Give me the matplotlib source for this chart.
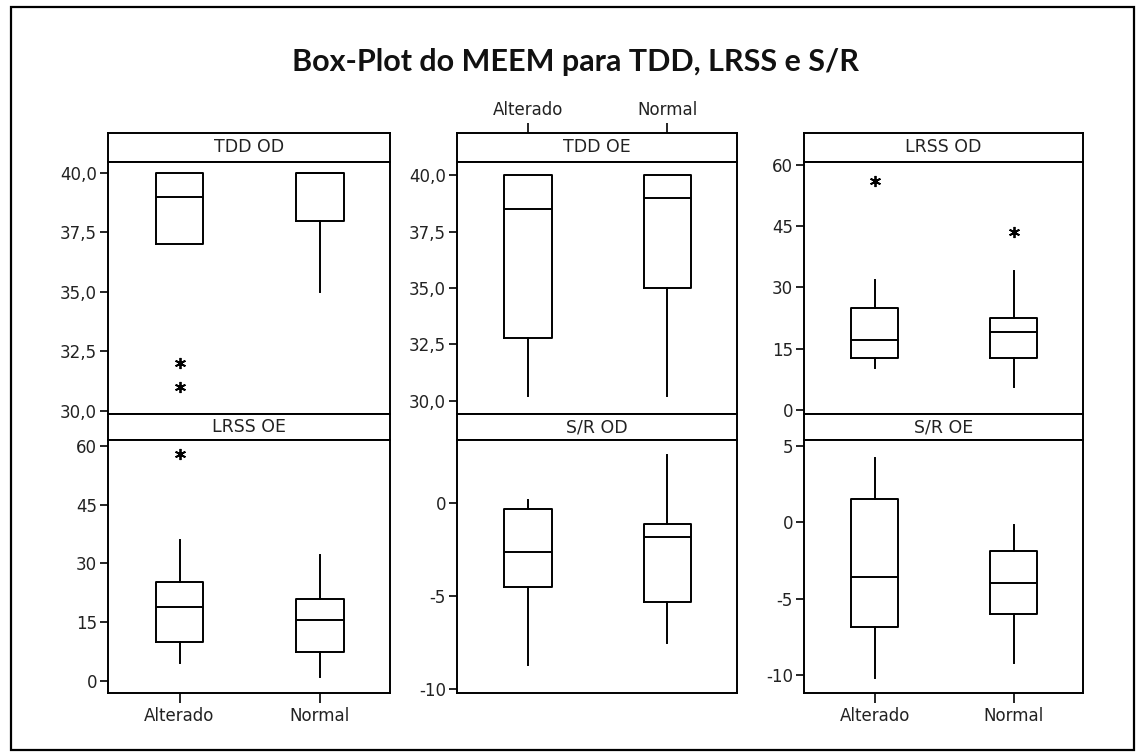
import matplotlib
matplotlib.use("Agg")
import matplotlib.pyplot as plt
from matplotlib.patches import Rectangle
from matplotlib.ticker import FixedLocator, FuncFormatter

plt.rcParams["axes.unicode_minus"] = False

W, H = 1138, 754

# ---------------- data ----------------
title = "Box-Plot do MEEM para TDD, LRSS e S/R"
groups = ["Alterado", "Normal"]
panel_titles = ["TDD OD", "TDD OE", "LRSS OD", "LRSS OE", "S/R OD", "S/R OE"]

whis_low = [[37.0, 35.0], [30.2, 30.2], [10.2, 5.6], [4.7, 0.9], [-8.7, -7.5], [-10.2, -9.2]]
q1 = [[37.0, 38.0], [32.8, 35.0], [12.8, 12.8], [10.0, 7.4], [-4.5, -5.3], [-6.9, -6.0]]
median = [[39.0, 40.0], [38.5, 39.0], [17.2, 19.2], [19.0, 15.6], [-2.6, -1.8], [-3.6, -4.0]]
q3 = [[40.0, 40.0], [40.0, 40.0], [24.9, 22.5], [25.3, 20.9], [-0.3, -1.1], [1.5, -1.9]]
whis_high = [[40.0, 40.0], [40.0, 40.0], [31.9, 34.1], [36.0, 32.2], [0.15, 2.6], [4.25, -0.2]]
outliers = [[[32.0, 31.0], []], [[], []], [[56.1], [43.5]], [[58.0], []], [[], []], [[], []]]

y_ticks = [[30.0, 32.5, 35.0, 37.5, 40.0],
           [30.0, 32.5, 35.0, 37.5, 40.0],
           [0, 15, 30, 45, 60],
           [0, 15, 30, 45, 60],
           [-10, -5, 0],
           [-10, -5, 0, 5]]
y_decimals = [1, 1, 0, 0, 0, 0]

# ---------------- layout (pixels) ----------------
cols = [(108, 390), (457, 737), (804, 1083)]
rows = [((133, 162), (162, 414)), ((414, 440), (440, 693))]
ylims = [(29.87, 40.46), (29.42, 40.58), (-0.98, 60.7), (-3.06, 61.5), (-10.2, 3.4), (-11.2, 5.4)]
xtick_side = [None, "top", None, "bottom", None, "bottom"]

FONT = "DejaVu Sans"
LW = 1.4
TXT = "#222222"

fig = plt.figure(figsize=(W / 100, H / 100), dpi=100)
fig.patch.set_facecolor("white")


def px_axes(x0, y0, x1, y1):
    return fig.add_axes([x0 / W, 1 - y1 / H, (x1 - x0) / W, (y1 - y0) / H])


def fmt_factory(d):
    return FuncFormatter(lambda v, p: (f"{v:.{d}f}").replace(".", ","))


for i, name in enumerate(panel_titles):
    r, c = divmod(i, 3)
    (sy0, sy1), (py0, py1) = rows[r]
    x0, x1 = cols[c]

    # strip header
    sax = px_axes(x0, sy0, x1, sy1)
    sax.set_xticks([])
    sax.set_yticks([])
    for s in sax.spines.values():
        s.set_linewidth(LW)
        s.set_color("black")
    sax.text(0.5, 0.5, name, ha="center", va="center", fontsize=12.5,
             family=FONT, color=TXT, transform=sax.transAxes)

    # plot area
    ax = px_axes(x0, py0, x1, py1)
    stats = []
    for g in range(2):
        stats.append(dict(label=groups[g], whislo=whis_low[i][g], q1=q1[i][g],
                          med=median[i][g], q3=q3[i][g], whishi=whis_high[i][g],
                          fliers=outliers[i][g]))
    ax.bxp(stats, positions=[1, 2], widths=0.34, showcaps=False,
           boxprops=dict(color="black", linewidth=LW),
           whiskerprops=dict(color="black", linewidth=LW),
           medianprops=dict(color="black", linewidth=LW),
           flierprops=dict(marker=(6, 2, 0), markersize=8, markeredgecolor="black",
                           markeredgewidth=1.3, linestyle="none"))
    ax.set_xlim(0.49, 2.5)
    ax.set_ylim(*ylims[i])
    ax.yaxis.set_major_locator(FixedLocator(y_ticks[i]))
    ax.yaxis.set_major_formatter(fmt_factory(y_decimals[i]))
    ax.tick_params(axis="y", direction="out", length=6, width=1.2, pad=2,
                   labelsize=12, labelcolor=TXT, colors="black")
    for lab in ax.get_yticklabels():
        lab.set_family(FONT)
    for s in ax.spines.values():
        s.set_linewidth(LW)
        s.set_color("black")

    side = xtick_side[i]
    if side is None:
        ax.tick_params(axis="x", bottom=False, top=False, labelbottom=False, labeltop=False)
    else:
        ax.set_xticks([1, 2])
        ax.set_xticklabels(groups, family=FONT)
        if side == "bottom":
            ax.tick_params(axis="x", bottom=True, top=False, labelbottom=True, labeltop=False,
                           direction="out", length=7, width=1.2, labelsize=12,
                           labelcolor=TXT, pad=3)
        else:
            ax.tick_params(axis="x", bottom=False, top=False, labelbottom=False, labeltop=False)
            # ticks above the strip header
            sax.set_xlim(0.49, 2.5)
            sax.set_xticks([1, 2])
            sax.set_xticklabels(groups, family=FONT)
            sax.tick_params(axis="x", bottom=False, top=True, labelbottom=False, labeltop=True,
                            direction="out", length=7, width=1.2, labelsize=12,
                            labelcolor=TXT, pad=3)

# title
fig.text(575 / W, 1 - 62 / H, title, ha="center", va="center", fontsize=22,
         fontweight="bold", family="Lato", color="#111111")

# outer border
fig.add_artist(Rectangle((11 / W, 1 - 750 / H), (1134 - 11) / W, (750 - 7) / H,
                         transform=fig.transFigure, fill=False, linewidth=1.6,
                         edgecolor="black"))

fig.savefig("out.png", dpi=100, facecolor="white")
